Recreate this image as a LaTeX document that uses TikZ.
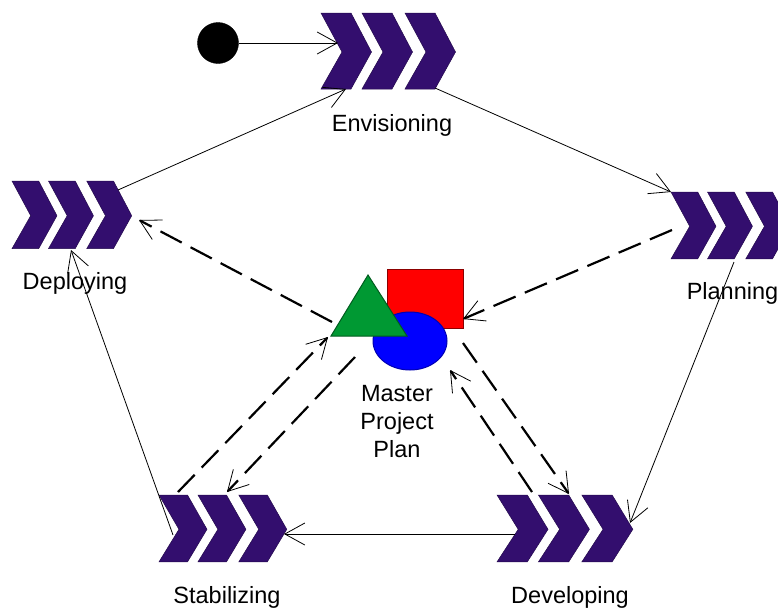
\documentclass[tikz,border=0pt]{standalone}
\usepackage{fontspec}
\setmainfont{Liberation Sans}
\usetikzlibrary{arrows.meta}
\usetikzlibrary{shapes.geometric}
\definecolor{phasepurple}{HTML}{330E6E}
\definecolor{iconred}{HTML}{FF0000}
\definecolor{icongreen}{HTML}{009933}
\tikzset{
    flow/.style={line width=0.8pt,-{Straight Barb[line width=0.8pt,length=20pt,width=22pt]}},
    planflow/.style={line width=2.2pt,dash pattern=on 24pt off 10pt,-{Straight Barb[line width=0.8pt,length=20pt,width=22pt]}},
    phaselabel/.style={font=\fontsize{23.5}{28}\selectfont,inner sep=0pt,align=center}
}
% one phase symbol: name, left, top, x scale, y scale
\newcommand{\phasegroup}[5]{
    \node[minimum width=134*#4,minimum height=76*#5,inner sep=0pt,anchor=north west] (#1) at (#2,#3) {};
    \foreach \chevronoff in {0,41,84} {
        \draw[fill=phasepurple,draw=phasepurple!70!black,line width=0.5pt,xshift=#2*1pt+\chevronoff*#4*1pt,yshift=-#3*1pt]
            (0,0) -- (30*#4,0) -- (50.5*#4,39*#5) -- (30*#4,76*#5) -- (0,76*#5) -- (21*#4,39*#5) -- cycle;
    }
}
\begin{document}
\begin{tikzpicture}[x=1pt,y=-1pt]
    \useasboundingbox (0,0) rectangle (778,608);
    \phasegroup{envisioning}{321}{13}{1}{1}
    \phasegroup{planning}{671}{192}{0.89}{0.88}
    \phasegroup{developing}{497}{495}{1.01}{0.88}
    \phasegroup{stabilizing}{159}{495}{0.95}{0.88}
    \phasegroup{deploying}{12}{181}{0.89}{0.89}
    \node[circle,fill=black,draw=black,inner sep=0pt,minimum size=41pt] (start) at (218,43) {};
    % master project plan icon
    \node[rectangle,fill=iconred,draw=iconred!55!black,line width=1pt,minimum width=76pt,minimum height=59pt,inner sep=0pt] (square) at (425,298.5) {};
    \node[ellipse,fill=blue,draw=blue!70!black,line width=1pt,minimum width=74pt,minimum height=58pt,inner sep=0pt] (disc) at (410,341) {};
    \draw[fill=icongreen,draw=icongreen!60!black,line width=1pt] (368,275) -- (407,336) -- (331,336) -- cycle;
    \node[phaselabel] (envisioninglabel) at (392,125.5) {Envisioning};
    \node[phaselabel] (planninglabel) at (732.5,293) {Planning};
    \node[phaselabel] (developinglabel) at (570,597) {Developing};
    \node[phaselabel] (stabilizinglabel) at (227,597) {Stabilizing};
    \node[phaselabel] (deployinglabel) at (75,283) {Deploying};
    \node[phaselabel] (masterlabel) at (397,422) {Master\\Project\\Plan};
    % connector ends
    \coordinate (envisioningin) at (338,43);
    \coordinate (envisioningfoot) at (346,89);
    \coordinate (envisioningout) at (435,88);
    \coordinate (planningin) at (671,192);
    \coordinate (planningout) at (734,262);
    \coordinate (planningdash) at (672,230);
    \coordinate (developingin) at (630,523);
    \coordinate (developingout) at (515,534);
    \coordinate (developingdashin) at (569,494);
    \coordinate (developingdashout) at (532,492);
    \coordinate (stabilizingin) at (284,534);
    \coordinate (stabilizingout) at (173,535);
    \coordinate (stabilizingdashin) at (227,492);
    \coordinate (stabilizingdashout) at (178,492);
    \coordinate (deployingin) at (71,250);
    \coordinate (deployingout) at (118,190);
    \coordinate (deployingdash) at (139,220);
    \coordinate (squarein) at (463,319);
    \coordinate (planfromleft) at (328,337);
    \coordinate (planfrombelow) at (450,370);
    \coordinate (planoutleft) at (332,322);
    \coordinate (planoutstab) at (355,357);
    \coordinate (planoutdev) at (463,343);
    % flow between phases
    \draw[flow] (start) -- (envisioningin);
    \draw[flow] (envisioningout) -- (planningin);
    \draw[flow] (planningout) -- (developingin);
    \draw[flow] (developingout) -- (stabilizingin);
    \draw[flow] (stabilizingout) -- (deployingin);
    \draw[flow] (deployingout) -- (envisioningfoot);
    % flow to and from the plan
    \draw[planflow] (planningdash) -- (squarein);
    \draw[planflow] (planoutleft) -- (deployingdash);
    \draw[planflow] (stabilizingdashout) -- (planfromleft);
    \draw[planflow] (planoutstab) -- (stabilizingdashin);
    \draw[planflow] (developingdashout) -- (planfrombelow);
    \draw[planflow] (planoutdev) -- (developingdashin);
\end{tikzpicture}
\end{document}
